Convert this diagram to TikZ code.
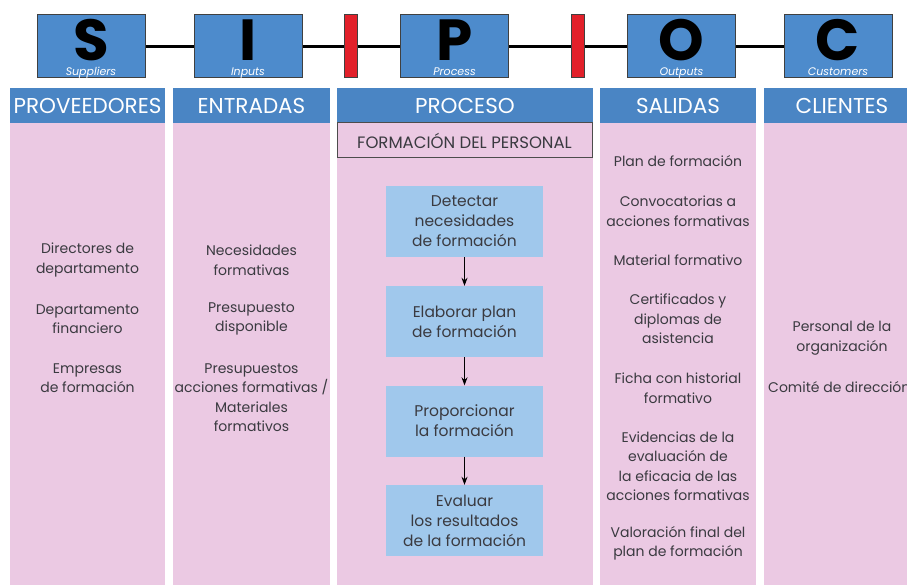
\documentclass[tikz,border=0pt]{standalone}
\usepackage{fontspec}
\setmainfont{Poppins}
\usepackage{xcolor}
\usetikzlibrary{arrows.meta}
\definecolor{cajaazul}{HTML}{4D8BCC}
\definecolor{cabazul}{HTML}{4A85C4}
\definecolor{rosa}{HTML}{EBC9E3}
\definecolor{celeste}{HTML}{A0C8EC}
\definecolor{rojo}{HTML}{E2202A}
\definecolor{texto}{HTML}{3A3A40}

\begin{document}
\begin{tikzpicture}[x=1pt,y=1pt,yscale=-1,xscale=1,
  letracaja/.style={draw=black!75,line width=1pt,fill=cajaazul,minimum width=108pt,minimum height=63pt,inner sep=0pt},
  barra/.style={draw=black!75,line width=1pt,fill=rojo,minimum width=13pt,minimum height=63pt,inner sep=0pt},
  letra/.style={font=\fontsize{58}{58}\selectfont\bfseries,text=black,inner sep=0pt,anchor=base,text depth=0pt},
  sub/.style={font=\fontsize{11}{11}\selectfont\itshape,text=white,inner sep=0pt,anchor=base,text height=7pt},
  cabecera/.style={fill=cabazul,text=white,minimum height=35pt,inner sep=0pt,font=\fontsize{21.5}{22}\selectfont},
  item/.style={align=center,text=texto,inner sep=0pt,font=\fontsize{14}{19.5}\selectfont},
  paso/.style={fill=celeste,minimum width=157pt,minimum height=71pt,align=center,text=texto,inner sep=0pt,font=\fontsize{15.5}{20}\selectfont},
  flecha/.style={-{Stealth[length=8pt,width=6pt]},line width=0.9pt,black}]
\clip (0,0) rectangle (907,585);
\fill[white] (0,0) rectangle (907,585);
%columnas
\fill[rosa] (10,123) rectangle (165,585);
\fill[rosa] (173,123) rectangle (330,585);
\fill[rosa] (337,123) rectangle (593,585);
\fill[rosa] (600,123) rectangle (756,585);
\fill[rosa] (764,123) rectangle (920,585);
%SIPOC
\node[letracaja] (S) at (91,46.5) {};
\node[letracaja] (I) at (248,46.5) {};
\node[barra] (r1) at (350.5,46.5) {};
\node[letracaja] (P) at (454.5,46.5) {};
\node[barra] (r2) at (578,46.5) {};
\node[letracaja] (O) at (681.5,46.5) {};
\node[letracaja] (C) at (838,46.5) {};
\draw[line width=2.2pt] (S) -- (I);
\draw[line width=2.2pt] (I) -- (r1);
\draw[line width=2.2pt] (r1) -- (P);
\draw[line width=2.2pt] (P) -- (r2);
\draw[line width=2.2pt] (r2) -- (O);
\draw[line width=2.2pt] (O) -- (C);
\node[letra] (Sl) at (91,61) {S};
\node[letra] (Il) at (248,61) {I};
\node[letra] (Pl) at (454.5,61) {P};
\node[letra] (Ol) at (681.5,61) {O};
\node[letra] (Cl) at (838,61) {C};
\node[sub] (Ss) at (91,75.5) {Suppliers};
\node[sub] (Is) at (248,75.5) {Inputs};
\node[sub] (Ps) at (454.5,75.5) {Process};
\node[sub] (Os) at (681.5,75.5) {Outputs};
\node[sub] (Cs) at (838,75.5) {Customers};
%cabeceras
\node[cabecera,minimum width=155pt] (prov) at (87.5,105.5) {PROVEEDORES};
\node[cabecera,minimum width=157pt] (entr) at (251.5,105.5) {ENTRADAS};
\node[cabecera,minimum width=256pt] (proc) at (465,105.5) {PROCESO};
\node[cabecera,minimum width=156pt] (sal) at (678,105.5) {SALIDAS};
\node[cabecera,minimum width=156pt] (cli) at (842,105.5) {CLIENTES};
%proveedores
\node[item] (p1) at (87.5,260) {Directores de\\departamento};
\node[item] (p2) at (87.5,319) {Departamento\\financiero};
\node[item] (p3) at (87.5,378) {Empresas\\de formación};
%entradas
\node[item] (e1) at (251.5,260) {Necesidades\\formativas};
\node[item] (e2) at (251.5,319) {Presupuesto\\disponible};
\node[item] (e3) at (251.5,397.5) {Presupuestos\\acciones formativas /\\Materiales\\formativos};
%proceso
\node[draw=black!70,line width=1pt,fill=rosa,minimum width=255pt,minimum height=35pt,inner sep=0pt,text=texto,font=\fontsize{16.5}{17}\selectfont] (form) at (464.5,140.5) {FORMACIÓN DEL PERSONAL};
\node[paso] (d1) at (464.5,221.5) {Detectar\\necesidades\\de formación};
\node[paso] (d2) at (464.5,321.5) {Elaborar plan\\de formación};
\node[paso] (d3) at (464.5,421) {Proporcionar\\la formación};
\node[paso] (d4) at (464.5,520.5) {Evaluar\\los resultados\\de la formación};
\draw[flecha] (d1) -- (d2);
\draw[flecha] (d2) -- (d3);
\draw[flecha] (d3) -- (d4);
%salidas
\node[item] (s1) at (678,161) {Plan de formación};
\node[item] (s2) at (678,211) {Convocatorias a\\acciones formativas};
\node[item] (s3) at (678,260) {Material formativo};
\node[item] (s4) at (678,319) {Certificados y\\diplomas de\\asistencia};
\node[item] (s5) at (678,388) {Ficha con historial\\formativo};
\node[item] (s6) at (678,466) {Evidencias de la\\evaluación de\\la eficacia de las\\acciones formativas};
\node[item] (s7) at (678,543.5) {Valoración final del\\plan de formación};
%clientes
\node[item] (c1) at (842,338) {Personal de la\\organización};
\node[item,anchor=west] (c2) at (768,387) {Comité de dirección};
\end{tikzpicture}
\end{document}
